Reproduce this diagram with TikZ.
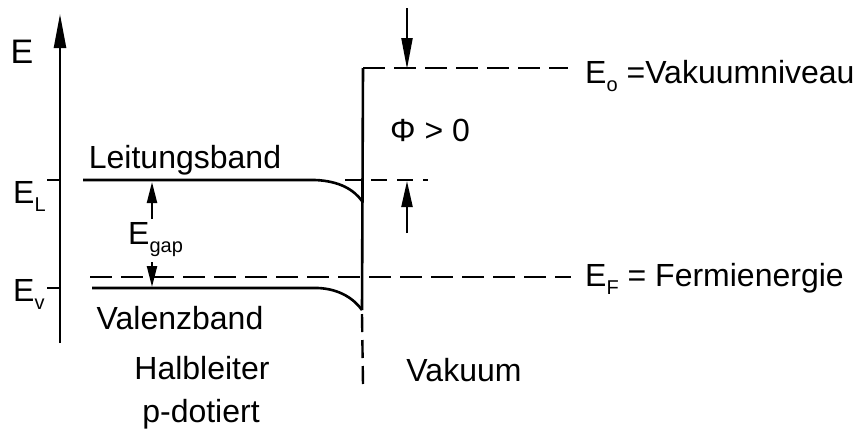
\documentclass[tikz,border=0pt]{standalone}
\usepackage{fontspec}
\setmainfont{Liberation Sans}
\usetikzlibrary{arrows.meta}
\newcommand\lsub[1]{\raisebox{-0.5ex}{\fontsize{20}{20}\selectfont #1}}
\begin{document}
\begin{tikzpicture}[x=1pt,y=-1pt,
  band/.style={line width=2.6pt},
  dline/.style={line width=2.2pt, dash pattern=on 22pt off 9pt},
  lbl/.style={font=\fontsize{32}{34}\selectfont, inner sep=0pt},
  axisarrow/.style={line width=2.4pt,-{Triangle[length=34pt,width=12pt]}},
  phiarrow/.style={line width=2.2pt,-{Triangle[length=31pt,width=11pt]}},
  gaparrow/.style={line width=2.2pt,-{Triangle[length=21pt,width=10pt]}},
]
\useasboundingbox (0,0) rectangle (861,432);
% axis
\coordinate (axb) at (60,343);
\coordinate (axt) at (60,14);
\draw[axisarrow] (axb) -- (axt);
\node[lbl,font=\fontsize{34}{36}\selectfont] (E) at (22,52) {E};
% ticks
\coordinate (tlA) at (47,180); \coordinate (tlB) at (60,180);
\coordinate (tvA) at (47,288); \coordinate (tvB) at (60,288);
\draw[line width=2pt] (tlA) -- (tlB);
\draw[line width=2pt] (tvA) -- (tvB);
\node[lbl,anchor=base west] (EL) at (13,203) {E\lsub{L}};
\node[lbl,anchor=base west] (EV) at (13,301) {E\lsub{v}};
% bands
\coordinate (cb0) at (83,180); \coordinate (cb1) at (315,180); \coordinate (cb2) at (362,201);
\coordinate (vb0) at (92,288); \coordinate (vb1) at (318,288); \coordinate (vb2) at (362,310);
\draw[band] (cb0) -- (cb1) .. controls (340,181) and (354,190) .. (cb2);
\draw[band] (vb0) -- (vb1) .. controls (340,289) and (354,299) .. (vb2);
% interface
\coordinate (itop) at (363,68);
\coordinate (ibot) at (363,385);
\coordinate (vacR) at (568,68);
\draw[band] (vb2) -- (itop);
\draw[line width=2.4pt, dash pattern=on 18pt off 8pt] (vb2) ++(0,4) -- (ibot);
\draw[dline] (itop) -- (vacR);
% Fermi line
\coordinate (fL) at (90,277); \coordinate (fR) at (571,277);
\draw[dline] (fL) -- (fR);
% short dashed at E_L
\coordinate (sdL) at (345,180); \coordinate (sdR) at (428,180);
\draw[line width=2.2pt, dash pattern=on 16pt off 10pt] (sdL) -- (sdR);
% phi arrows
\coordinate (pa0) at (407,8); \coordinate (pa1) at (407,69);
\coordinate (pb0) at (407,233); \coordinate (pb1) at (407,181);
\draw[phiarrow] (pa0) -- (pa1);
\draw[phiarrow,-{Triangle[length=26pt,width=11pt]}] (pb0) -- (pb1);
\node[lbl] (phi) at (430,130) {Φ > 0};
% gap arrows
\coordinate (ga0) at (152,219); \coordinate (ga1) at (152,182);
\coordinate (gb0) at (152,262); \coordinate (gb1) at (152,287);
\draw[gaparrow] (ga0) -- (ga1);
\draw[gaparrow] (gb0) -- (gb1);
\node[lbl,anchor=base west] (Egap) at (128,244) {E\lsub{gap}};
% labels
\node[lbl] (LB) at (185,160) {Leitungsband};
\node[lbl] (VB) at (180,318) {Valenzband};
\node[lbl] (HL) at (202,368) {Halbleiter};
\node[lbl] (PD) at (201,414) {p-dotiert};
\node[lbl] (VK) at (464,370) {Vakuum};
\node[lbl,anchor=base west] (E0) at (585,83) {E\lsub{o} =Vakuumniveau};
\node[lbl,anchor=base west] (EF) at (585,286) {E\lsub{F} = Fermienergie};
\end{tikzpicture}
\end{document}
